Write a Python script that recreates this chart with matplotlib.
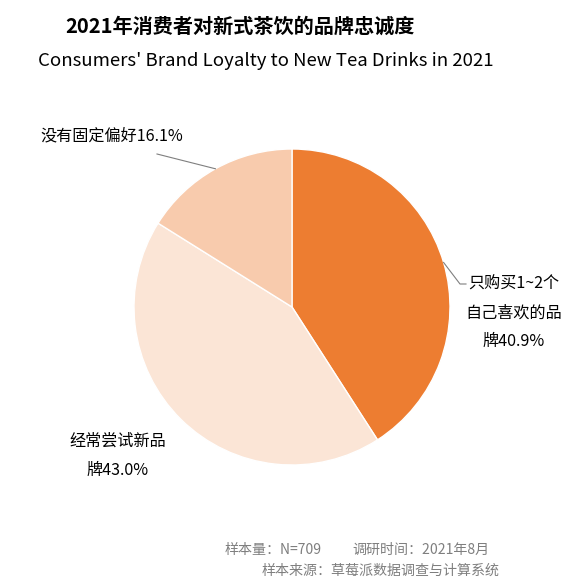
import matplotlib.pyplot as plt
import numpy as np

plt.rcParams['font.family'] = ['Noto Sans CJK SC', 'DejaVu Sans']

# data
labels = ['只购买1~2个\n自己喜欢的品\n牌', '经常尝试新品\n牌', '没有固定偏好']
shares = [40.9, 43.0, 16.1]
colors = ['#ED7D31', '#FBE5D6', '#F8CBAD']

title = '2021年消费者对新式茶饮的品牌忠诚度'
subtitle = "Consumers' Brand Loyalty to New Tea Drinks in 2021"
note1a = '样本量：N=709'
note1b = '调研时间：2021年8月'
note2 = '样本来源：草莓派数据调查与计算系统'

W, H = 578, 580
fig = plt.figure(figsize=(W / 100, H / 100), dpi=100)


def px(x, y):
    # pixel from top-left -> figure fraction
    return x / W, 1 - y / H


# pie centre (292, 307), radius 158 px
cx, cy, r = 292, 307, 158
box = 170
ax = fig.add_axes([(cx - box) / W, (H - cy - box) / H, 2 * box / W, 2 * box / H])
wedges, _ = ax.pie(shares, colors=colors, startangle=90, counterclock=False,
                   wedgeprops=dict(edgecolor='white', linewidth=1))
ax.set_xlim(-box / r, box / r)
ax.set_ylim(-box / r, box / r)
ax.set_aspect('equal')
ax.axis('off')

fig.text(*px(240, 26), title, ha='center', va='center', fontsize=14.5,
         fontweight='bold')
fig.text(*px(266, 61), subtitle, ha='center', va='center', fontsize=13.4)

txt = [l + '%.1f%%' % s for l, s in zip(labels, shares)]

# orange wedge label (right)
fig.text(*px(514, 313), txt[0], ha='center', va='center', fontsize=11.6,
         linespacing=1.9)
# light wedge label (bottom left)
fig.text(*px(118, 456), txt[1], ha='center', va='center', fontsize=11.6,
         linespacing=1.9)
# peach wedge label (top left)
fig.text(*px(40, 136), txt[2], ha='left', va='center', fontsize=11.6)

# leader lines
for w, pts in [(wedges[0], [(460, 284), (466, 284)]),
               (wedges[2], [(157, 154)])]:
    ang = np.deg2rad((w.theta1 + w.theta2) / 2)
    sx, sy = ax.transData.transform((np.cos(ang), np.sin(ang)))
    xs = [sx] + [p[0] for p in pts]
    ys = [sy] + [H - p[1] for p in pts]
    fig.add_artist(plt.Line2D(xs, ys, transform=None, color='#7f7f7f',
                              linewidth=0.8))

fig.text(*px(225, 550), note1a, ha='left', va='center', fontsize=10.1,
         color='#7f7f7f')
fig.text(*px(352, 550), note1b, ha='left', va='center', fontsize=10.1,
         color='#7f7f7f')
fig.text(*px(262, 571), note2, ha='left', va='center', fontsize=10.1,
         color='#7f7f7f')

fig.savefig('out.png', dpi=100)
